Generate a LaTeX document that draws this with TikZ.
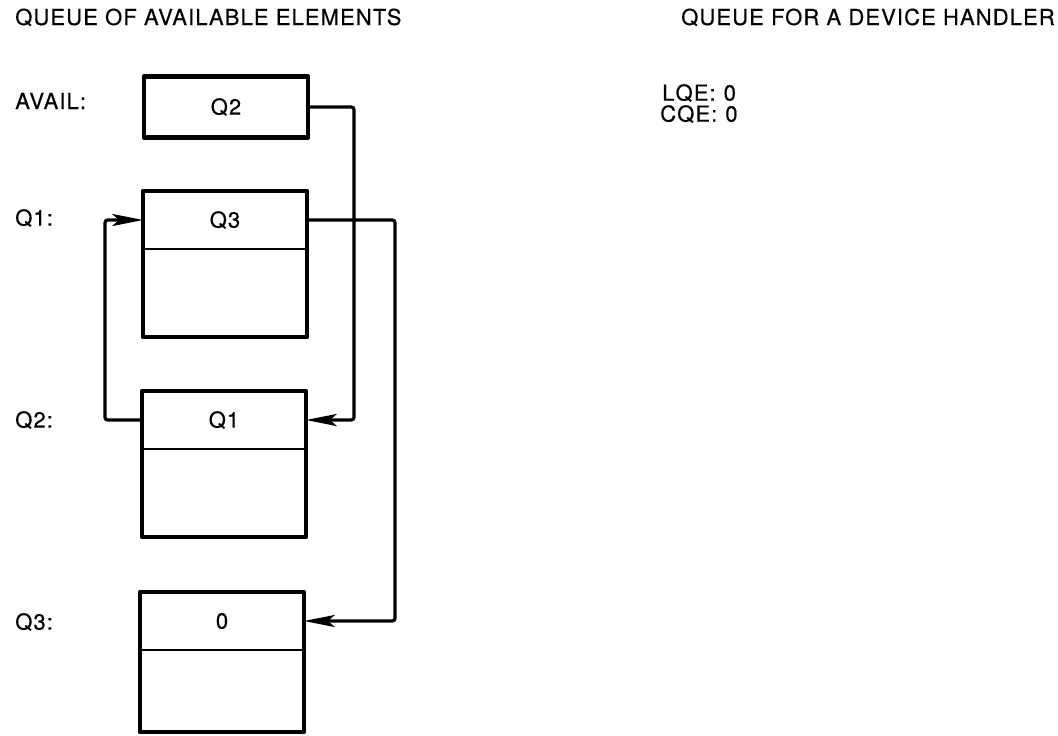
\documentclass[tikz,border=0pt]{standalone}
\usepackage{fontspec}
\setmainfont{TeX Gyre Heros}[LetterSpace=5, FakeBold=0.4]
\usetikzlibrary{arrows.meta, positioning}
\tikzset{
  every picture/.style={font=\fontsize{16.5}{20}\selectfont},
  cell/.style={draw, line width=2.2pt, minimum width=123pt, minimum height=#1, inner sep=0pt, outer sep=0pt},
  cell/.default=43.5pt,
  frame/.style={line width=3.6pt, line join=round},
  link/.style={-{Stealth[length=23pt, width=9pt, inset=5pt]}, line width=2.4pt, rounded corners=2pt},
  tag/.style={anchor=west, inner sep=0pt},
}
\begin{document}
\begin{tikzpicture}[x=0.75pt, y=-0.75pt]
  \useasboundingbox (0,0) rectangle (1058,736);
  % headings
  \node[tag, anchor=base west] (headavail) at (15,25) {QUEUE OF AVAILABLE ELEMENTS};
  \node[tag, anchor=base east] (headdev) at (1055,25) {QUEUE FOR A DEVICE HANDLER};
  \node[tag] (lqe) at (662,93) {LQE:\hspace{6pt}0};
  \node[tag] (cqe) at (660,114) {CQE:\hspace{6pt}0};
  % labels
  \node[tag] (lblavail) at (15,101) {AVAIL:};
  \node[tag] (lblq1) at (15,218) {Q1:};
  \node[tag] (lblq2) at (15,420) {Q2:};
  \node[tag] (lblq3) at (15,622) {Q3:};
  % list head
  \node[cell=45.75pt] (avail) at (226,107) {Q2};
  \draw[frame] (avail.north west) rectangle (avail.south east);
  % elements
  \node[cell] (q1) at (225,220) {Q3};
  \node[cell=66pt, below=0pt of q1] (q1b) {};
  \draw[frame] (q1.north west) rectangle (q1b.south east);
  \node[cell] (q2) at (224,420) {Q1};
  \node[cell=66pt, below=0pt of q2] (q2b) {};
  \draw[frame] (q2.north west) rectangle (q2b.south east);
  \node[cell] (q3) at (222,621) {0};
  \node[cell=61.5pt, below=0pt of q3] (q3b) {};
  \draw[frame] (q3.north west) rectangle (q3b.south east);
  % links
  \draw[link] (avail.east) -- ++(46,0) |- (q2.east);
  \draw[link] (q1.east) -- ++(88,0) |- (q3.east);
  \draw[link] (q2.west) -- ++(-37,0) |- (q1.west);
\end{tikzpicture}
\end{document}
